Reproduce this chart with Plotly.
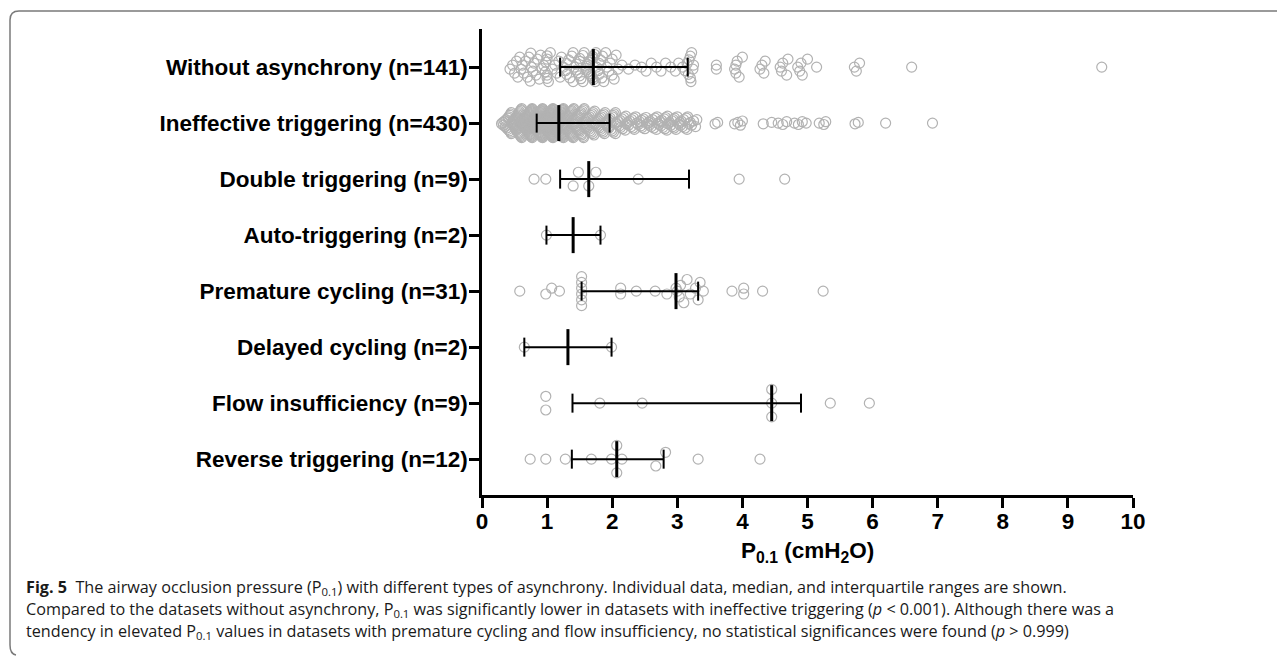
import numpy as np
import plotly.graph_objects as go

# ---------------- data ----------------
categories = [
    "Without asynchrony (n=141)",
    "Ineffective triggering (n=430)",
    "Double triggering (n=9)",
    "Auto-triggering (n=2)",
    "Premature cycling (n=31)",
    "Delayed cycling (n=2)",
    "Flow insufficiency (n=9)",
    "Reverse triggering (n=12)",
]

without_async = [
    0.43, 0.47, 0.50, 0.53, 0.55, 0.58, 0.60, 0.62, 0.64, 0.67,
    0.70, 0.72, 0.74, 0.75, 0.76, 0.78, 0.80, 0.83, 0.85, 0.88,
    0.90, 0.92, 0.95, 0.97, 0.98, 1.00, 1.00, 1.00, 1.00, 1.02,
    1.05, 1.08, 1.12, 1.15, 1.18,
    1.20, 1.22, 1.25, 1.28, 1.30, 1.30, 1.33, 1.35, 1.38, 1.40,
    1.40, 1.42, 1.45, 1.45, 1.47, 1.50, 1.50, 1.50, 1.52, 1.55,
    1.55, 1.57, 1.60, 1.60, 1.60, 1.62, 1.63, 1.65, 1.65, 1.67,
    1.68, 1.70, 1.70, 1.70, 1.71,
    1.73, 1.74, 1.75, 1.76, 1.78, 1.80, 1.80, 1.82, 1.84, 1.85,
    1.87, 1.90, 1.92, 1.95, 1.97, 2.00, 2.00, 2.03, 2.06, 2.09,
    2.15, 2.25, 2.35, 2.45, 2.52, 2.60, 2.68, 2.75, 2.82, 2.90,
    2.97, 3.02, 3.08, 3.12, 3.15,
    3.17, 3.18, 3.20, 3.20, 3.21, 3.22, 3.24, 3.25, 3.60, 3.60,
    3.88, 3.90, 3.90, 3.92, 3.95, 4.00, 4.27, 4.30, 4.33, 4.35,
    4.58, 4.60, 4.62, 4.68, 4.70, 4.85, 4.88, 4.90, 4.92, 5.00,
    5.14, 5.72, 5.75, 5.80, 6.60, 9.52,
]

ineffective = [
    0.30, 0.32, 0.33, 0.35, 0.36, 0.37, 0.38, 0.40, 0.40, 0.41,
    0.42, 0.43, 0.44, 0.45, 0.45, 0.46, 0.47, 0.48, 0.48, 0.49,
    0.50, 0.50, 0.50, 0.51, 0.52, 0.52, 0.53, 0.54, 0.55, 0.55,
    0.56, 0.57, 0.57, 0.58, 0.59, 0.60, 0.60, 0.60, 0.61, 0.62,
    0.62, 0.63, 0.64, 0.64, 0.65, 0.65, 0.66, 0.67, 0.67, 0.68,
    0.68, 0.69, 0.70, 0.70, 0.70, 0.70, 0.71, 0.72, 0.72, 0.73,
    0.73, 0.74, 0.74, 0.75, 0.75, 0.75, 0.76, 0.76, 0.77, 0.77,
    0.78, 0.78, 0.78, 0.79, 0.79, 0.80, 0.80, 0.80, 0.80, 0.81,
    0.81, 0.81, 0.82, 0.82, 0.82, 0.83, 0.83, 0.83, 0.84, 0.84,
    0.84, 0.66, 0.58, 0.63, 0.71, 0.74, 0.77, 0.79, 0.53, 0.47,
    0.69, 0.76, 0.72, 0.68, 0.61, 0.56, 0.44,
    0.85, 0.85, 0.86, 0.86, 0.87, 0.87, 0.88, 0.88, 0.89, 0.89,
    0.90, 0.90, 0.90, 0.91, 0.91, 0.92, 0.92, 0.93, 0.93, 0.94,
    0.94, 0.95, 0.95, 0.95, 0.96, 0.96, 0.97, 0.97, 0.98, 0.98,
    0.99, 0.99, 1.00, 1.00, 1.00, 1.00, 1.00, 1.00, 1.00, 1.00,
    1.01, 1.01, 1.02, 1.02, 1.03, 1.03, 1.04, 1.04, 1.05, 1.05,
    1.05, 1.06, 1.06, 1.07, 1.07, 1.08, 1.08, 1.09, 1.09, 1.10,
    1.10, 1.10, 1.11, 1.11, 1.12, 1.12, 1.13, 1.13, 1.14, 1.14,
    1.15, 1.15, 1.15, 1.16, 1.16, 1.17, 1.17, 1.18, 1.18, 1.18,
    0.92, 0.96, 1.02, 1.06, 0.88, 1.12, 0.94, 1.00, 1.04, 1.08,
    0.86, 0.98, 1.13, 1.01, 0.91, 1.16, 1.09, 0.97, 1.03, 1.11,
    0.89, 1.07, 0.93, 1.14, 1.05, 0.99, 1.10, 1.00,
    1.19, 1.19, 1.20, 1.20, 1.21, 1.22, 1.22, 1.23, 1.24, 1.25,
    1.25, 1.26, 1.27, 1.28, 1.28, 1.29, 1.30, 1.30, 1.31, 1.32,
    1.33, 1.34, 1.35, 1.35, 1.36, 1.37, 1.38, 1.39, 1.40, 1.40,
    1.41, 1.42, 1.43, 1.44, 1.45, 1.46, 1.47, 1.48, 1.49, 1.50,
    1.50, 1.51, 1.52, 1.53, 1.54, 1.55, 1.56, 1.57, 1.58, 1.59,
    1.60, 1.60, 1.61, 1.62, 1.63, 1.64, 1.65, 1.66, 1.67, 1.68,
    1.69, 1.70, 1.71, 1.72, 1.73, 1.74, 1.75, 1.76, 1.77, 1.78,
    1.79, 1.80, 1.81, 1.82, 1.83, 1.84, 1.85, 1.86, 1.87, 1.88,
    1.89, 1.90, 1.91, 1.92, 1.93, 1.94, 1.95, 1.95, 1.21, 1.24,
    1.27, 1.31, 1.34, 1.37, 1.42, 1.46, 1.52, 1.26, 1.29, 1.33,
    1.38, 1.44, 1.23, 1.36, 1.48, 1.56, 1.62,
    1.97, 1.98, 2.00, 2.00, 2.01, 2.02, 2.03, 2.05, 2.06, 2.08,
    2.10, 2.11, 2.13, 2.15, 2.16, 2.18, 2.20, 2.22, 2.24, 2.25,
    2.27, 2.29, 2.30, 2.32, 2.34, 2.36, 2.38, 2.40, 2.42, 2.44,
    2.46, 2.48, 2.50, 2.52, 2.54, 2.56, 2.58, 2.60, 2.62, 2.64,
    2.66, 2.68, 2.70, 2.72, 2.74, 2.76, 2.78, 2.80, 2.82, 2.84,
    2.86, 2.88, 2.90, 2.92, 2.94, 2.96, 2.98, 3.00, 3.02, 3.04,
    3.06, 3.08, 3.10, 3.12, 3.14, 3.16, 3.18, 3.20, 3.22, 3.25,
    3.28, 3.30, 2.05, 2.12, 2.21, 2.33, 2.45, 2.57, 2.69, 2.81,
    2.93, 3.05, 3.15, 2.75, 2.85, 2.95,
    3.58, 3.62, 3.88, 3.93, 3.97, 4.00, 4.32, 4.45, 4.55, 4.62,
    4.68, 4.80, 4.86, 4.92, 4.98, 5.18, 5.25, 5.28, 5.73, 5.78,
    6.20, 6.92,
]

double_trig = [0.80, 0.98, 1.40, 1.48, 1.64, 1.75, 2.40, 3.95, 4.65]
auto_trig = [0.99, 1.82]
premature = [0.58, 0.98, 1.07, 1.19, 1.53, 1.53, 1.53, 1.53, 1.53, 1.53,
             2.13, 2.13, 2.37, 2.66, 2.84, 2.98, 3.00, 3.03, 3.05, 3.10,
             3.15, 3.20, 3.28, 3.32, 3.35, 3.40, 3.84, 4.02, 4.02, 4.31, 5.24]
delayed = [0.65, 1.99]
flow_insuff = [0.98, 0.98, 1.81, 2.46, 4.45, 4.45, 4.45, 5.35, 5.95]
reverse_trig = [0.74, 0.98, 1.28, 1.68, 1.99, 2.07, 2.07, 2.15, 2.67, 2.82, 3.32, 4.27]

groups = [without_async, ineffective, double_trig, auto_trig,
          premature, delayed, flow_insuff, reverse_trig]

medians = [1.71, 1.18, 1.64, 1.40, 2.98, 1.32, 4.45, 2.07]
q1 = [1.20, 0.84, 1.20, 0.99, 1.53, 0.65, 1.39, 1.38]
q3 = [3.16, 1.96, 3.18, 1.82, 3.32, 1.99, 4.90, 2.79]

x_ticks = list(range(0, 11))
x_title = "P<sub>0.1</sub> (cmH<sub>2</sub>O)"
caption_lines = [
    "<b>Fig. 5</b>  The airway occlusion pressure (P<sub>0.1</sub>) with different types of asynchrony. "
    "Individual data, median, and interquartile ranges are shown.",
    "Compared to the datasets without asynchrony, P<sub>0.1</sub> was significantly lower in datasets "
    "with ineffective triggering (<i>p</i> &lt; 0.001). Although there was a",
    "tendency in elevated P<sub>0.1</sub> values in datasets with premature cycling and flow "
    "insufficiency, no statistical significances were found (<i>p</i> &gt; 0.999)",
]

# ---------------- layout geometry ----------------
# page body has an 8px margin; figure is sized to fit inside the viewport
OFF = 8
SCREEN_W, SCREEN_H = 1285, 664
W, H = SCREEN_W - 2 * OFF, SCREEN_H - 2 * OFF
ML, MT = 482 - OFF, 29 - OFF
PW, PH = 651, 466
MR, MB = W - ML - PW, H - MT - PH
x_range = [0, 10]
y_range = [7.64, -0.68]
ppx = PW / (x_range[1] - x_range[0])
ppy = PH / (y_range[0] - y_range[1])


def px2paper(px, py):
    """screen pixel -> paper coordinates"""
    fx, fy = px - OFF, py - OFF
    return (fx - ML) / PW, (H - MB - fy) / PH


def swarm_offsets(vals, bin_px=10.0, step_px=13.7, cap_px=14.5):
    """Prism-like column scatter: values in the same bin are stacked with a
    common per-group step; tall stacks are compressed to fit the band."""
    vals = np.asarray(vals, float)
    order = np.argsort(vals, kind="stable")
    n = len(vals)
    bins = []
    i = 0
    while i < n:
        start = vals[order[i]]
        j = i
        while j < n and (vals[order[j]] - start) * ppx < bin_px:
            j += 1
        bins.append(order[i:j])
        i = j
    kmax = max(len(b) for b in bins)
    min_step = 4.0 if n < 200 else 1.4
    step = step_px if kmax <= 2 else min(step_px, max(min_step, 2 * cap_px / (kmax - 1)))
    off = np.zeros(n)
    for members in bins:
        k = len(members)
        s = step if k <= 1 else min(step, 2 * cap_px / (k - 1)) if k > 2 else step
        slots = [(m - (k - 1) / 2) * s for m in range(k)]
        slots.sort(key=lambda v: (abs(v), -v))
        for p, sl in zip(members, slots):
            off[p] = sl
    return off / ppy


fig = go.Figure()

px_all, py_all = [], []
for gi, vals in enumerate(groups):
    offs = swarm_offsets(vals)
    px_all.extend(vals)
    py_all.extend((gi + offs).tolist())

fig.add_trace(go.Scatter(
    x=px_all, y=py_all, mode="markers",
    marker=dict(symbol="circle-open", size=10, color="rgb(178,178,178)",
                line=dict(width=1.2, color="rgb(178,178,178)")),
    hoverinfo="x", showlegend=False))

med_half = 18 / ppy
cap_half = 9.5 / ppy
iqr_x, iqr_y = [], []
for gi in range(len(groups)):
    iqr_x += [q1[gi], q3[gi], None, q1[gi], q1[gi], None, q3[gi], q3[gi], None]
    iqr_y += [gi, gi, None, gi - cap_half, gi + cap_half, None, gi - cap_half, gi + cap_half, None]
fig.add_trace(go.Scatter(x=iqr_x, y=iqr_y, mode="lines",
                         line=dict(color="black", width=2), hoverinfo="skip", showlegend=False))

med_x, med_y = [], []
for gi in range(len(groups)):
    med_x += [medians[gi], medians[gi], None]
    med_y += [gi - med_half, gi + med_half, None]
fig.add_trace(go.Scatter(x=med_x, y=med_y, mode="lines",
                         line=dict(color="black", width=3), hoverinfo="skip", showlegend=False))

label_font = dict(family="Liberation Sans, Arial, sans-serif", size=22.5, color="black", weight="bold")

fig.update_xaxes(range=x_range, tickvals=x_ticks, ticktext=[str(t) for t in x_ticks],
                 showline=True, linewidth=2.5, linecolor="black",
                 ticks="outside", ticklen=10, tickwidth=2.5, tickcolor="black",
                 ticklabelstandoff=-6,
                 showgrid=False, zeroline=False, tickfont=label_font)
fig.update_yaxes(range=y_range, tickvals=list(range(len(categories))), ticktext=categories,
                 showline=True, linewidth=2.5, linecolor="black",
                 ticks="outside", ticklen=10, tickwidth=2.5, tickcolor="black",
                 ticklabelstandoff=-3,
                 showgrid=False, zeroline=False, tickfont=label_font)

annotations = []
tx, ty = px2paper(807.5, 552)
annotations.append(dict(text=x_title, x=tx, y=ty, xref="paper", yref="paper",
                        xanchor="center", yanchor="middle", showarrow=False, font=label_font))
cap_font = dict(family="Open Sans, Noto Sans, sans-serif", size=16.2, color="#1a1a1a")
for line, cy in zip(caption_lines, [587, 609, 631]):
    cx, cyp = px2paper(24, cy)
    annotations.append(dict(text=line, x=cx, y=cyp, xref="paper", yref="paper",
                            xanchor="left", yanchor="middle", showarrow=False, font=cap_font))


def P(px, py):
    a, b = px2paper(px, py)
    return f"{a:.5f},{b:.5f}"


frame_path = (f"M {P(1300, 11)} L {P(19, 11)} Q {P(10, 11)} {P(10, 20)} "
              f"L {P(10, 645)} Q {P(10, 654)} {P(16, 655)}")

fig.update_layout(
    width=W, height=H,
    margin=dict(l=ML, r=MR, t=MT, b=MB, pad=0),
    paper_bgcolor="white", plot_bgcolor="white",
    annotations=annotations,
    shapes=[dict(type="path", path=frame_path, xref="paper", yref="paper",
                 line=dict(color="#7a7a7a", width=1.5), layer="above")],
)

fig.write_html("out.html")
